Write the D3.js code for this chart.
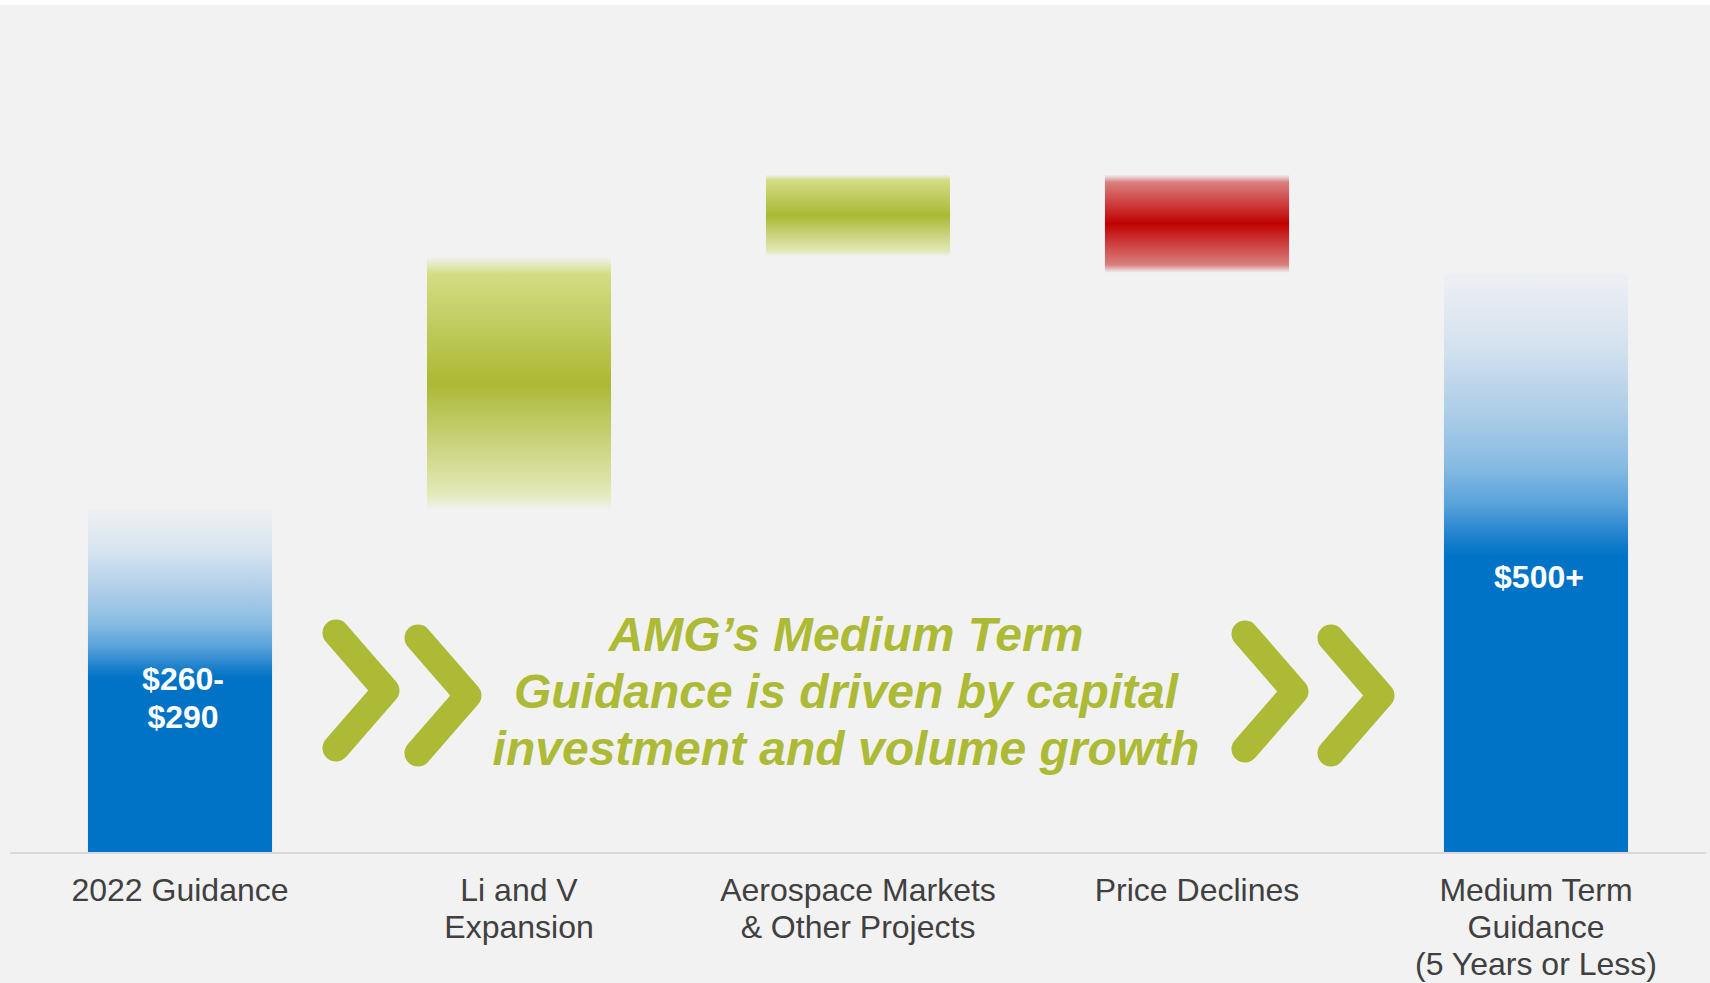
<html lang="en">
<head>
  <meta charset="UTF-8">
  <title>AMG Medium Term Guidance</title>
  <style>
    body { margin: 0; background: #f2f2f2; }
    svg { display: block; }
  </style>
</head>
<body>
  <script src="https://d3js.org/d3.v7.min.js"></script>

  <div id="chart"></div>

  <script>
    // data
    let categories = ["2022 Guidance", "Li and V Expansion", "Aerospace Markets & Other Projects", "Price Declines", "Medium Term Guidance (5 Years or Less)"];
    let categoryLines = [["2022 Guidance"], ["Li and V", "Expansion"], ["Aerospace Markets", "& Other Projects"], ["Price Declines"], ["Medium Term", "Guidance", "(5 Years or Less)"]];
    let barStart = [0, 295, 514, 585, 0];
    let barEnd = [295, 514, 585, 500, 500];
    let barKind = ["total", "increase", "increase", "decrease", "total"];
    let valueLabels = [["$260-", "$290"], [], [], [], ["$500+"]];
    let headline = ["AMG\u2019s Medium Term", "Guidance is driven by capital", "investment and volume growth"];
    let yDomain = [0, 600];

    function translate(x, y) { return 'translate(' + x + ',' + y + ')'; }

    let W = 1710, H = 983;
    let baseY = 852;
    let green = "#adba35";
    let font = "'Liberation Sans', Arial, Helvetica, sans-serif";

    let svg = d3.select("#chart")
      .append("svg")
        .attr("width", W)
        .attr("height", H);

    svg.append("rect").attr("width", W).attr("height", H).attr("fill", "#f2f2f2");
    svg.append("rect").attr("width", W).attr("height", 5).attr("fill", "#ffffff");

    let x = d3.scaleBand()
      .domain(categories)
      .range([10.5, 1705.5])
      .paddingInner(0.457)
      .paddingOuter(0.2285);

    let y = d3.scaleLinear()
      .domain(yDomain)
      .range([baseY, 157]);

    // gradients
    let defs = svg.append("defs");

    function gradient(id, stops) {
      let g = defs.append("linearGradient")
        .attr("id", id)
        .attr("x1", 0).attr("y1", 0).attr("x2", 0).attr("y2", 1);
      stops.forEach(s => {
        g.append("stop")
          .attr("offset", s[0])
          .attr("stop-color", s[1])
          .attr("stop-opacity", s[2] === undefined ? 1 : s[2]);
      });
    }

    gradient("grad-total", [
      ["0%", "#eef0f3"], ["12%", "#d6e3ef"], ["25%", "#aacbe7"], ["33%", "#88bce2"],
      ["40%", "#58a2da"], ["45%", "#2585ce"], ["49%", "#0073c7"], ["100%", "#0073c7"]
    ]);
    gradient("grad-increase", [
      ["0%", "#d4dc84", 0], ["7%", "#d4dc84"], ["50%", "#abb934"], ["93%", "#e3e8b7"], ["100%", "#e3e8b7", 0]
    ]);
    gradient("grad-decrease", [
      ["0%", "#dc8c8c", 0], ["8%", "#da8080"], ["50%", "#c00000"], ["92%", "#da8080"], ["100%", "#dc8c8c", 0]
    ]);

    let data = categories.map((c, i) => ({
      cat: c, start: barStart[i], end: barEnd[i], kind: barKind[i],
      lines: categoryLines[i], values: valueLabels[i]
    }));

    // bars
    svg.append("g")
      .selectAll("rect")
      .data(data)
      .enter().append("rect")
        .attr("x", d => x(d.cat))
        .attr("width", x.bandwidth())
        .attr("y", d => y(Math.max(d.start, d.end)))
        .attr("height", d => Math.abs(y(d.start) - y(d.end)))
        .attr("fill", d => "url(#grad-" + d.kind + ")");

    // baseline
    svg.append("line")
      .attr("x1", 10).attr("x2", 1706)
      .attr("y1", baseY + 1).attr("y2", baseY + 1)
      .attr("stroke", "#d9d9d9")
      .attr("stroke-width", 2);

    // value labels inside the total bars
    data.filter(d => d.values.length).forEach(d => {
      let top = y(d.end), h = y(d.start) - y(d.end);
      let t = svg.append("text")
        .attr("text-anchor", "middle")
        .style("font-family", font)
        .style("font-weight", "bold")
        .style("font-size", "32px")
        .attr("fill", "#ffffff");
      d.values.forEach((v, k) => {
        t.append("tspan")
          .attr("x", x(d.cat) + x.bandwidth() / 2 + 3)
          .attr("y", top + h * 0.5705 - 15 + k * 38)
          .text(v);
      });
    });

    // category labels
    data.forEach(d => {
      let t = svg.append("text")
        .attr("text-anchor", "middle")
        .style("font-family", font)
        .style("font-size", "32px")
        .attr("fill", "#404040");
      d.lines.forEach((l, k) => {
        t.append("tspan")
          .attr("x", x(d.cat) + x.bandwidth() / 2)
          .attr("y", baseY + 49 + k * 37)
          .text(l);
      });
    });

    // chevrons
    let chevrons = [[336, 633], [418, 638], [1245, 634], [1331, 638]];
    chevrons.forEach(c => {
      svg.append("path")
        .attr("d", d3.line()([[c[0], c[1]], [c[0] + 50, c[1] + 57.5], [c[0], c[1] + 115]]))
        .attr("fill", "none")
        .attr("stroke", green)
        .attr("stroke-width", 27)
        .attr("stroke-linecap", "round")
        .attr("stroke-linejoin", "round");
    });

    // headline
    let head = svg.append("text")
      .attr("text-anchor", "middle")
      .style("font-family", font)
      .style("font-weight", "bold")
      .style("font-style", "italic")
      .style("font-size", "48px")
      .attr("fill", green);
    headline.forEach((l, k) => {
      head.append("tspan")
        .attr("x", 846)
        .attr("y", 651 + k * 57)
        .text(l);
    });
  </script>
</body>
</html>
